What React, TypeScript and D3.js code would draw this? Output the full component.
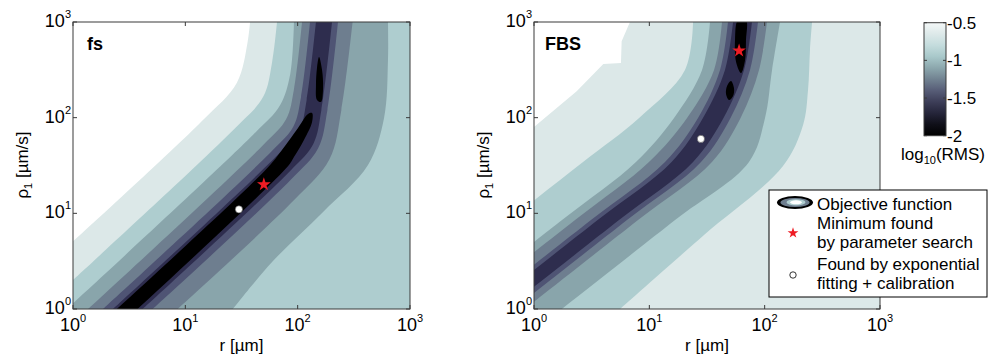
import React from 'react';
import * as d3 from 'd3';

type P = [number, number];

const FONT = "'Liberation Sans', Arial, Helvetica, sans-serif";

// ---------- axes / ticks ----------
const decadeTicks = [1, 10, 100, 1000];
const decadeExponents = ['0', '1', '2', '3'];
const cbTickValues = [-0.5, -1, -1.5, -2];
const cbTickLabels = ['-0.5', '-1', '-1.5', '-2'];

// colour-bar stops (log10 RMS value -> colour)
const cbStopValues = [-2, -1.85, -1.7, -1.55, -1.4, -1.25, -1.1, -0.95, -0.8, -0.65, -0.5];
const cbStopColors = ['#000000', '#0f0f18', '#25253a', '#3d3e58', '#575d77', '#718291', '#8ca7ad', '#a8c8ca', '#c4dcdd', '#dde9e9', '#f4f8f8'];

// filled contour band colours, lowest (black) to highest (white)
const bandColors = ['#000000', '#2e2d4e', '#4f5474', '#6e7e8f', '#89a5ab', '#aecdcf', '#dce8e8', '#ffffff'];

// ---------- fs panel: band edges, points as [log10 r, log10 rho1] ----------
const fsEdge12Up: P[] = [[0.356, 0], [1.821, 1.610], [2.016, 1.873], [2.080, 2.185], [2.163, 3.0]];
const fsEdge23Up: P[] = [[0.267, 0], [1.779, 1.662], [1.964, 1.914], [2.030, 2.216], [2.110, 3.0]];
const fsEdge34Up: P[] = [[0.134, 0], [1.693, 1.714], [1.898, 1.985], [1.966, 2.289], [2.039, 3.0]];
const fsEdge45Up: P[] = [[0, 0.059], [1.610, 1.829], [1.843, 2.129], [1.934, 2.456], [1.967, 3.0]];
const fsEdge56Up: P[] = [[0, 0.303], [1.449, 1.897], [1.694, 2.220], [1.772, 2.577], [1.816, 3.0]];
const fsEdge67Up: P[] = [[0, 0.705], [1.148, 1.965], [1.459, 2.366], [1.553, 2.780], [1.576, 3.0]];
const fsEdge12Dn: P[] = [[0.620, 0], [1.935, 1.446], [2.139, 1.726], [2.211, 2.080], [2.306, 3.0]];
const fsEdge23Dn: P[] = [[0.710, 0], [1.936, 1.348], [2.182, 1.680], [2.265, 2.080], [2.359, 3.0]];
const fsEdge34Dn: P[] = [[0.932, 0], [1.968, 1.139], [2.283, 1.565], [2.389, 2.080], [2.489, 3.0]];
const fsEdge45Dn: P[] = [[1.424, 0], [1.772, 0.491], [2.226, 1.014], [2.626, 1.505], [2.769, 1.997], [2.804, 2.603], [2.804, 3.0]];
const fsBlackValley: P[] = [[0.250, -0.15], [1.730, 1.474], [1.887, 1.704], [2.003, 1.892], [2.092, 2.038], [2.128, 2.049], [2.128, 1.955], [2.056, 1.767], [1.967, 1.589], [1.915, 1.495], [0.436, -0.15]];
const fsBlackIsland: P[] = [[2.190, 2.634], [2.217, 2.498], [2.226, 2.310], [2.208, 2.164], [2.172, 2.185], [2.163, 2.341], [2.172, 2.519]];

// ---------- FBS panel ----------
const fbsEdge12Up: P[] = [[-0.663, -0.22], [0.552, 0.930], [1.193, 1.537], [1.465, 1.997], [1.656, 2.498], [1.726, 3.0]];
const fbsEdge23Up: P[] = [[-0.720, -0.22], [0.494, 0.930], [1.136, 1.537], [1.422, 1.997], [1.613, 2.498], [1.682, 3.0]];
const fbsEdge34Up: P[] = [[-0.858, -0.22], [0.356, 0.930], [0.997, 1.537], [1.327, 1.997], [1.561, 2.498], [1.630, 3.0]];
const fbsEdge45Up: P[] = [[-0.971, -0.22], [0.243, 0.930], [0.884, 1.537], [1.214, 1.997], [1.457, 2.498], [1.526, 3.0]];
const fbsEdge56Up: P[] = [[-1.431, -0.22], [-0.217, 0.930], [0.425, 1.537], [0.911, 1.997], [1.309, 2.498], [1.379, 3.0]];
const fbsEdge67Up: P[] = [[0, 1.903], [0.370, 2.276], [0.601, 2.561], [0.754, 2.571], [0.760, 2.798], [0.832, 3.0]];
const fbsEdge12Dn: P[] = [[-0.477, -0.22], [0.737, 0.930], [1.379, 1.537], [1.643, 1.997], [1.821, 2.498], [1.890, 3.0]];
const fbsEdge23Dn: P[] = [[-0.408, -0.22], [0.806, 0.930], [1.448, 1.537], [1.704, 1.997], [1.873, 2.498], [1.942, 3.0]];
const fbsEdge34Dn: P[] = [[-0.312, -0.22], [0.902, 0.930], [1.543, 1.537], [1.791, 1.997], [1.951, 2.498], [2.020, 3.0]];
const fbsEdge45Dn: P[] = [[0.009, -0.22], [1.223, 0.930], [1.864, 1.537], [2.003, 1.997], [2.064, 2.498], [2.133, 3.0]];
const fbsEdge56Dn: P[] = [[0.746, 0], [1.474, 0.774], [2.159, 1.495], [2.333, 1.923], [2.376, 2.289], [2.393, 2.707], [2.411, 3.0]];
const fbsBlackTop: P[] = [[1.769, 3.021], [1.838, 3.021], [1.838, 2.812], [1.830, 2.603], [1.795, 2.467], [1.752, 2.582], [1.743, 2.812]];
const fbsBlackLow: P[] = [[1.708, 2.383], [1.734, 2.310], [1.726, 2.227], [1.691, 2.185], [1.665, 2.247], [1.674, 2.331]];

// ---------- markers: [r (µm), rho1 (µm/s)] ----------
const fsSearchMin: P = [50, 20];
const fsFitCal: P = [30, 11];
const fbsSearchMin: P = [60, 500];
const fbsFitCal: P = [28, 60];

// legend texts
const legendLines = ['Objective function', 'Minimum found', 'by parameter search', 'Found by exponential', 'fitting + calibration'];

const TOP = 22;
const BOTTOM = 309;

type PanelProps = {
  id: string;
  left: number;
  right: number;
  title: string;
  titleX: number;
  up: { pts: P[]; color: string; straight?: boolean }[];
  dn: { pts: P[]; color: string }[];
  blackOpen: P[][];
  blackClosed: P[][];
  star: P;
  fit: P;
};

function Panel(p: PanelProps) {
  const x = d3.scaleLog().domain([1, 1000]).range([p.left, p.right]);
  const y = d3.scaleLog().domain([1, 1000]).range([BOTTOM, TOP]);
  const toPx = (q: P): [number, number] => [x(Math.pow(10, q[0])), y(Math.pow(10, q[1]))];
  const smooth = d3.line<[number, number]>().curve(d3.curveCatmullRom.alpha(0.5));
  const straight = d3.line<[number, number]>();
  const closedSmooth = d3.line<[number, number]>().curve(d3.curveCatmullRomClosed.alpha(0.5));
  const far = 200;
  const regionUp = (pts: P[], isStraight?: boolean) =>
    `${(isStraight ? straight : smooth)(pts.map(toPx))}L${p.left - far},${TOP - far}L${p.left - far},${BOTTOM + far}Z`;
  const regionDn = (pts: P[]) =>
    `${smooth(pts.map(toPx))}L${p.right + far},${TOP - far}L${p.right + far},${BOTTOM + far}Z`;
  const starPath = d3.symbol().type(d3.symbolStar).size(58)() as string;
  const clipId = `clip-${p.id}`;
  const mid = (p.left + p.right) / 2;
  return (
    <g>
      <defs>
        <clipPath id={clipId}>
          <rect x={p.left} y={TOP} width={p.right - p.left} height={BOTTOM - TOP} />
        </clipPath>
      </defs>
      <g clipPath={`url(#${clipId})`}>
        <rect x={p.left} y={TOP} width={p.right - p.left} height={BOTTOM - TOP} fill={bandColors[1]} />
        {p.up.map((b, i) => (
          <path key={'u' + i} d={regionUp(b.pts, b.straight)} fill={b.color} />
        ))}
        {p.dn.map((b, i) => (
          <path key={'d' + i} d={regionDn(b.pts)} fill={b.color} />
        ))}
        {p.blackOpen.map((b, i) => (
          <path key={'bo' + i} d={smooth(b.map(toPx)) + 'Z'} fill={bandColors[0]} />
        ))}
        {p.blackClosed.map((b, i) => (
          <path key={'bc' + i} d={closedSmooth(b.map(toPx)) as string} fill={bandColors[0]} />
        ))}
        <path d={starPath} transform={`translate(${x(p.star[0])},${y(p.star[1])})`} fill="#ee1c24" />
        <circle cx={x(p.fit[0])} cy={y(p.fit[1])} r={3.6} fill="#ffffff" stroke="#555" strokeWidth={0.6} />
      </g>
      {/* frame */}
      <rect x={p.left} y={TOP} width={p.right - p.left} height={BOTTOM - TOP} fill="none" stroke="#3a3a3a" strokeWidth={1} />
      {decadeTicks.map((t, i) => (
        <g key={'t' + i}>
          <line x1={x(t)} x2={x(t)} y1={BOTTOM} y2={BOTTOM - 4} stroke="#3a3a3a" />
          <line x1={x(t)} x2={x(t)} y1={TOP} y2={TOP + 4} stroke="#3a3a3a" />
          <line x1={p.left} x2={p.left + 4} y1={y(t)} y2={y(t)} stroke="#3a3a3a" />
          <line x1={p.right} x2={p.right - 4} y1={y(t)} y2={y(t)} stroke="#3a3a3a" />
          <text x={x(t)} y={331} textAnchor="middle" fontSize={18} fill="#000">
            <tspan>10</tspan>
            <tspan dy={-9} fontSize={11}>{decadeExponents[i]}</tspan>
          </text>
          <text x={p.left - 2} y={y(t) + 5} textAnchor="end" fontSize={18} fill="#000">
            <tspan>10</tspan>
            <tspan dy={-9} fontSize={11}>{decadeExponents[i]}</tspan>
          </text>
        </g>
      ))}
      <text x={mid} y={351} textAnchor="middle" fontSize={17} fill="#000">r [µm]</text>
      <text transform={`translate(${p.left - 45},165) rotate(-90)`} textAnchor="middle" fontSize={17} fill="#000">
        <tspan>ρ</tspan>
        <tspan dy={4} fontSize={11}>1</tspan>
        <tspan dy={-4}> [µm/s]</tspan>
      </text>
      <text x={p.titleX} y={50} fontSize={18} fontWeight="bold" fill="#000">{p.title}</text>
    </g>
  );
}

function Colorbar() {
  const cb = d3.scaleLinear().domain([-2, -0.5]).range([135.7, 22.7]);
  const x0 = 924, x1 = 946;
  return (
    <g>
      <defs>
        <linearGradient id="cbGrad" x1="0" y1="1" x2="0" y2="0">
          {cbStopValues.map((v, i) => (
            <stop key={i} offset={(v + 2) / 1.5} stopColor={cbStopColors[i]} />
          ))}
        </linearGradient>
      </defs>
      <rect x={x0} y={cb(-0.5)} width={x1 - x0} height={cb(-2) - cb(-0.5)} fill="url(#cbGrad)" stroke="#3a3a3a" strokeWidth={1} />
      {cbTickValues.map((v, i) => (
        <g key={i}>
          <line x1={x0} x2={x0 + 3} y1={cb(v)} y2={cb(v)} stroke="#3a3a3a" />
          <line x1={x1} x2={x1 - 3} y1={cb(v)} y2={cb(v)} stroke="#3a3a3a" />
          <text x={947} y={cb(v) + 6} fontSize={17} fill="#000">{cbTickLabels[i]}</text>
        </g>
      ))}
      <text x={943} y={160} textAnchor="middle" fontSize={17} fill="#000">
        <tspan>log</tspan>
        <tspan dy={4} fontSize={11}>10</tspan>
        <tspan dy={-4}>(RMS)</tspan>
      </text>
    </g>
  );
}

function Legend() {
  const starPath = d3.symbol().type(d3.symbolStar).size(36)() as string;
  const bx = 769, by = 190, bw = 218, bh = 107;
  const tx = 817;
  const baselines = [209.5, 228.5, 247.5, 269.5, 288.5];
  return (
    <g>
      <rect x={bx} y={by} width={bw} height={bh} fill="#ffffff" stroke="#000" strokeWidth={1} />
      <ellipse cx={795} cy={202.5} rx={18} ry={6.5} fill="#000" />
      <ellipse cx={795} cy={202.5} rx={14.5} ry={4.6} fill={bandColors[3]} />
      <ellipse cx={796} cy={202.3} rx={9.5} ry={3.1} fill={bandColors[5]} />
      <ellipse cx={796} cy={202.3} rx={6} ry={2} fill="#ffffff" />
      <path d={starPath} transform="translate(793,233)" fill="#ee1c24" />
      <circle cx={793} cy={275} r={3.2} fill="#fff" stroke="#000" strokeWidth={0.8} />
      {legendLines.map((t, i) => (
        <text key={i} x={tx} y={baselines[i]} fontSize={17} fill="#000">{t}</text>
      ))}
    </g>
  );
}

export default function App() {
  const fsUp = [fsEdge12Up, fsEdge23Up, fsEdge34Up, fsEdge45Up, fsEdge56Up, fsEdge67Up].map((pts, i) => ({ pts, color: bandColors[i + 2] }));
  const fsDn = [fsEdge12Dn, fsEdge23Dn, fsEdge34Dn, fsEdge45Dn].map((pts, i) => ({ pts, color: bandColors[i + 2] }));
  const fbsUp = [fbsEdge12Up, fbsEdge23Up, fbsEdge34Up, fbsEdge45Up, fbsEdge56Up, fbsEdge67Up].map((pts, i) => ({ pts, color: bandColors[i + 2], straight: i === 5 }));
  const fbsDn = [fbsEdge12Dn, fbsEdge23Dn, fbsEdge34Dn, fbsEdge45Dn, fbsEdge56Dn].map((pts, i) => ({ pts, color: bandColors[i + 2] }));
  return (
    <svg width={991} height={357} style={{ position: 'absolute', left: 0, top: 0, background: '#fff' }} fontFamily={FONT}>
      <rect x={0} y={0} width={991} height={357} fill="#fff" />
      <Panel id="fs" left={73} right={410} title="fs" titleX={87} up={fsUp} dn={fsDn}
        blackOpen={[fsBlackValley]} blackClosed={[fsBlackIsland]} star={fsSearchMin} fit={fsFitCal} />
      <Panel id="fbs" left={534} right={880} title="FBS" titleX={545} up={fbsUp} dn={fbsDn}
        blackOpen={[]} blackClosed={[fbsBlackTop, fbsBlackLow]} star={fbsSearchMin} fit={fbsFitCal} />
      <Colorbar />
      <Legend />
    </svg>
  );
}
